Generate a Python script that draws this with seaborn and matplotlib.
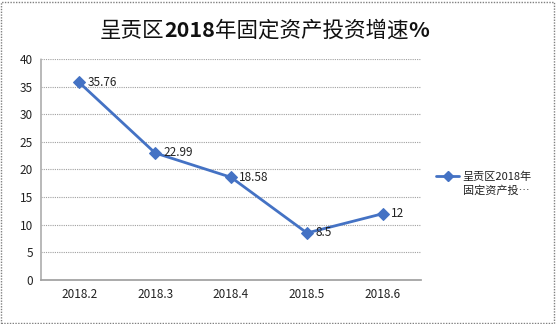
import matplotlib
matplotlib.use("Agg")
import matplotlib.pyplot as plt
import seaborn as sns
import pandas as pd
from matplotlib.patches import Rectangle

months = ["2018.2", "2018.3", "2018.4", "2018.5", "2018.6"]
growth = [35.76, 22.99, 18.58, 8.5, 12]
value_labels = ["35.76", "22.99", "18.58", "8.5", "12"]
y_ticks = [0, 5, 10, 15, 20, 25, 30, 35, 40]
title_parts = [("呈贡区", "normal"), ("2018", "bold"), ("年固定资产投资增速", "normal"), ("%", "bold")]
legend_text = "呈贡区2018年\n固定资产投…"

sns.set_theme(style="white")
plt.rcParams["font.family"] = ["Noto Sans CJK SC", "DejaVu Sans"]

df = pd.DataFrame({"pos": range(len(months)), "month": months, "growth": growth})

fig = plt.figure(figsize=(5.56, 3.24), dpi=100)
ax = fig.add_axes([0.074, 0.136, 0.683, 0.682])

line_color = "#4472C4"
sns.lineplot(data=df, x="pos", y="growth", ax=ax, color=line_color, linewidth=2,
             marker="D", markersize=6, markeredgecolor=line_color, sort=False)

ax.set_xlim(-0.5, len(months) - 0.5)
ax.set_ylim(0, 40)
ax.set_yticks(y_ticks)
ax.set_xticks(range(len(months)))
ax.set_xticklabels(months)
ax.set_xlabel("")
ax.set_ylabel("")
ax.tick_params(axis="both", labelsize=8.5, colors="#222222", length=0, pad=6)

for y in y_ticks[1:]:
    ax.axhline(y, color="#a0a0a0", linewidth=0.8, linestyle=(0, (1, 1)), zorder=0)
for s in ["top", "right"]:
    ax.spines[s].set_visible(False)
ax.spines["left"].set_color("#b0b0b0")
ax.spines["left"].set_linestyle((0, (1, 1)))
ax.spines["bottom"].set_color("#a0a0a0")
ax.spines["bottom"].set_linestyle((0, (1, 1)))

for i, (v, lab) in enumerate(zip(growth, value_labels)):
    ax.annotate(lab, (i, v), xytext=(6, 0), textcoords="offset points",
                fontsize=8.5, va="center", ha="left", color="#222222")

# title: mixed weights, laid out piece by piece and centred
renderer = fig.canvas.get_renderer()
pieces = [fig.text(0, 0.905, t, fontsize=15.5, fontweight=w, va="center",
                   ha="left", color="#111111") for t, w in title_parts]
widths = [p.get_window_extent(renderer).width / fig.bbox.width for p in pieces]
x = 0.476 - sum(widths) / 2
for p, w in zip(pieces, widths):
    p.set_x(x)
    x += w

# legend entry
fig.add_artist(plt.Line2D([0.784, 0.826], [0.457, 0.457], color=line_color,
                          linewidth=2, transform=fig.transFigure))
fig.add_artist(plt.Line2D([0.805], [0.457], color=line_color, marker="D",
                          markersize=5, transform=fig.transFigure))
fig.text(0.832, 0.432, legend_text, fontsize=8, va="center", ha="left",
         color="#222222", linespacing=1.4)

fig.add_artist(Rectangle((0.002, 0.003), 0.994, 0.992, transform=fig.transFigure,
                         fill=False, edgecolor="#808080", linewidth=1,
                         linestyle=(0, (1, 1))))

fig.savefig("out.png", dpi=100)
